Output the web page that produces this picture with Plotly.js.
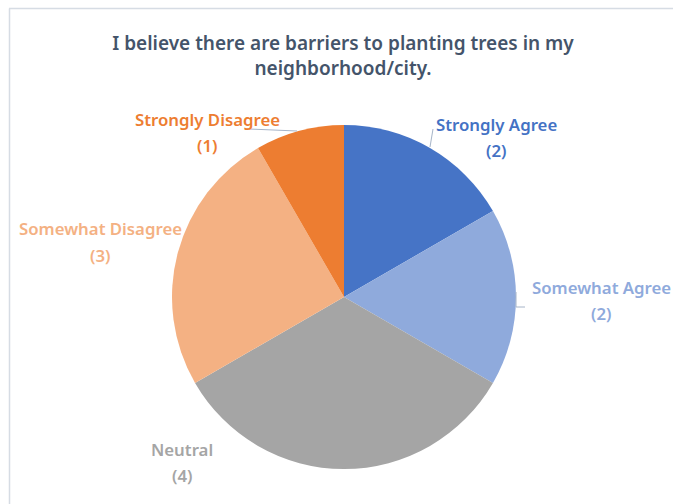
<!DOCTYPE html>
<html>
<head>
<meta charset="utf-8">
<script src="https://cdn.plot.ly/plotly-3.0.1.min.js"></script>
<style>html,body{margin:0;padding:0;background:#fff;}#chart{width:673px;height:504px;}</style>
</head>
<body>
<div id="chart"></div>
<script>
// ---- data ----
const categories = ["Strongly Agree", "Somewhat Agree", "Neutral", "Somewhat Disagree", "Strongly Disagree"];
const counts = [2, 2, 4, 3, 1];
const titleText = "I believe there are barriers to planting trees in my<br>neighborhood/city.";

// ---- styling ----
const sliceColors = ["#4674C6", "#8FAADC", "#A5A5A5", "#F4B183", "#ED7D31"];
const labelColors = ["#4472C4", "#8FAADC", "#A5A5A5", "#F4B183", "#ED7D31"];
// label anchor positions in pixels (x, y of first line centre)
const labelPx = [[496, 124], [601, 287], [182, 449], [100, 229], [207, 119]];
const W = 673, H = 504;
const FONT = "Noto Sans, sans-serif";

const annotations = [];
categories.forEach((c, i) => {
  const [px, py] = labelPx[i];
  annotations.push({
    xref: "paper", yref: "paper", x: px / W, y: 1 - py / H,
    xanchor: "center", yanchor: "middle", showarrow: false,
    text: c, font: {family: FONT, size: 16.8, color: labelColors[i], weight: 600}
  });
  annotations.push({
    xref: "paper", yref: "paper", x: px / W, y: 1 - (py + 26) / H,
    xanchor: "center", yanchor: "middle", showarrow: false,
    text: "(" + counts[i] + ")", font: {family: FONT, size: 16.8, color: labelColors[i], weight: 600}
  });
});

const px2x = v => v / W, px2y = v => 1 - v / H;
const leader = (x0, y0, x1, y1) => ({type: "line", xref: "paper", yref: "paper",
  x0: px2x(x0), y0: px2y(y0), x1: px2x(x1), y1: px2y(y1), line: {color: "#A6B4C8", width: 1}});

const shapes = [
  {type: "line", xref: "paper", yref: "paper", x0: px2x(9), y0: px2y(8.5), x1: 1, y1: px2y(8.5), line: {color: "#D6DCE4", width: 1.5}},
  {type: "line", xref: "paper", yref: "paper", x0: px2x(9.5), y0: px2y(8.5), x1: px2x(9.5), y1: 0, line: {color: "#D6DCE4", width: 1.5}},
  leader(249, 129, 297, 131),
  leader(433, 129, 430, 147),
  leader(516, 292, 516, 307),
  leader(516, 307, 525, 307)
];

const trace = {
  type: "pie",
  labels: categories,
  values: counts,
  sort: false,
  direction: "clockwise",
  rotation: 0,
  textinfo: "none",
  hoverinfo: "label+value",
  marker: {colors: sliceColors, line: {width: 0}},
  domain: {x: [172 / W, 516 / W], y: [1 - 469 / H, 1 - 125 / H]},
  showlegend: false
};

const layout = {
  width: W, height: H,
  margin: {l: 0, r: 0, t: 0, b: 0},
  paper_bgcolor: "#ffffff",
  title: {
    text: titleText,
    x: 343 / W, xanchor: "center",
    y: 1 - 50 / H, yanchor: "middle", yref: "paper",
    font: {family: FONT, size: 19, color: "#44546A", weight: 600}
  },
  annotations: annotations,
  shapes: shapes
};

Plotly.newPlot("chart", [trace], layout, {displayModeBar: false, staticPlot: true});
</script>
</body>
</html>
